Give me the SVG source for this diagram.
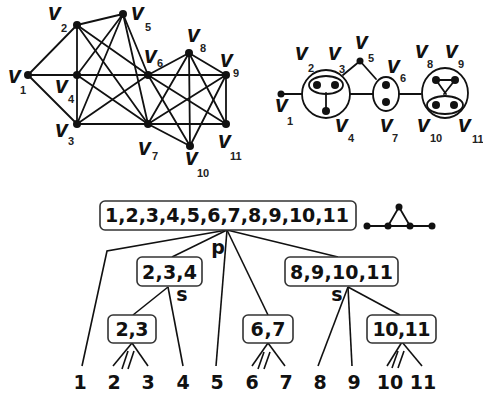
<svg xmlns="http://www.w3.org/2000/svg" width="483" height="393" viewBox="0 0 483 393">
<style>
.e{stroke:#111;stroke-width:1.8;fill:none;stroke-linecap:round}
.t{stroke:#111;stroke-width:1.6;fill:none}
.o{stroke:#111;stroke-width:1.8;fill:none}
.d{fill:#111}
.v{font-family:"Liberation Sans",Arial,sans-serif;font-weight:bold;font-style:italic;font-size:23px;fill:#111}
.s{font-family:"Liberation Sans",Arial,sans-serif;font-weight:bold;font-size:11px;fill:#222}
.b{fill:#fff;stroke:#333;stroke-width:1.6}
.L{font-family:"DejaVu Sans","Liberation Sans",sans-serif;font-weight:bold;font-size:19px;fill:#111}
</style>
<rect width="483" height="393" fill="#fff"/>
<!-- left graph -->
<g id="left-edges">
<line class="e" x1="28" y1="75" x2="77" y2="25"/>
<line class="e" x1="28" y1="75" x2="77" y2="75"/>
<line class="e" x1="28" y1="75" x2="77" y2="124"/>
<line class="e" x1="77" y1="25" x2="77" y2="75"/>
<line class="e" x1="77" y1="75" x2="77" y2="124"/>
<line class="e" x1="77" y1="25" x2="123" y2="14"/>
<line class="e" x1="77" y1="75" x2="123" y2="14"/>
<line class="e" x1="77" y1="124" x2="123" y2="14"/>
<line class="e" x1="77" y1="25" x2="148" y2="75"/>
<line class="e" x1="77" y1="25" x2="148" y2="124"/>
<line class="e" x1="77" y1="75" x2="148" y2="75"/>
<line class="e" x1="77" y1="75" x2="148" y2="124"/>
<line class="e" x1="77" y1="124" x2="148" y2="75"/>
<line class="e" x1="77" y1="124" x2="148" y2="124"/>
<line class="e" x1="123" y1="14" x2="148" y2="75"/>
<line class="e" x1="123" y1="14" x2="148" y2="124"/>
<line class="e" x1="148" y1="75" x2="189" y2="53"/>
<line class="e" x1="148" y1="75" x2="226" y2="75"/>
<line class="e" x1="148" y1="75" x2="190" y2="146"/>
<line class="e" x1="148" y1="75" x2="226" y2="124"/>
<line class="e" x1="148" y1="124" x2="189" y2="53"/>
<line class="e" x1="148" y1="124" x2="226" y2="75"/>
<line class="e" x1="148" y1="124" x2="190" y2="146"/>
<line class="e" x1="148" y1="124" x2="226" y2="124"/>
<line class="e" x1="189" y1="53" x2="226" y2="75"/>
<line class="e" x1="189" y1="53" x2="190" y2="146"/>
<line class="e" x1="189" y1="53" x2="226" y2="124"/>
<line class="e" x1="226" y1="75" x2="190" y2="146"/>
<line class="e" x1="226" y1="75" x2="226" y2="124"/>
</g>
<g id="left-v1"><circle class="d" cx="28" cy="75" r="4"/><text class="v" x="8" y="83">v</text><text class="s" x="20" y="94">1</text></g>
<g id="left-v2"><circle class="d" cx="77" cy="25" r="4"/><text class="v" x="48" y="20">v</text><text class="s" x="61" y="32">2</text></g>
<g id="left-v3"><circle class="d" cx="77" cy="124" r="4"/><text class="v" x="55" y="137">v</text><text class="s" x="68" y="145">3</text></g>
<g id="left-v4"><circle class="d" cx="77" cy="75" r="4"/><text class="v" x="55" y="93">v</text><text class="s" x="68" y="103">4</text></g>
<g id="left-v5"><circle class="d" cx="123" cy="14" r="4"/><text class="v" x="131" y="20">v</text><text class="s" x="145" y="31">5</text></g>
<g id="left-v6"><circle class="d" cx="148" cy="75" r="4"/><text class="v" x="144" y="63">v</text><text class="s" x="157" y="67">6</text></g>
<g id="left-v7"><circle class="d" cx="148" cy="124" r="4"/><text class="v" x="138" y="155">v</text><text class="s" x="152" y="160">7</text></g>
<g id="left-v8"><circle class="d" cx="189" cy="53" r="4"/><text class="v" x="187" y="42">v</text><text class="s" x="200" y="52">8</text></g>
<g id="left-v9"><circle class="d" cx="226" cy="75" r="4"/><text class="v" x="220" y="67">v</text><text class="s" x="233" y="77">9</text></g>
<g id="left-v10"><circle class="d" cx="190" cy="146" r="4"/><text class="v" x="185" y="165">v</text><text class="s" x="197" y="177">10</text></g>
<g id="left-v11"><circle class="d" cx="226" cy="124" r="4"/><text class="v" x="218" y="148">v</text><text class="s" x="230" y="160">11</text></g>
<!-- right graph -->
<g id="right-edges">
<line class="e" x1="281" y1="94" x2="302" y2="94"/>
<line class="e" x1="326" y1="93" x2="326" y2="111"/>
<line class="e" x1="343" y1="75" x2="360" y2="61"/>
<line class="e" x1="360" y1="61" x2="376" y2="79"/>
<line class="e" x1="350" y1="94" x2="373" y2="94"/>
<line class="e" x1="399" y1="94" x2="421" y2="94"/>
<line class="e" x1="436" y1="80" x2="455" y2="80"/>
<line class="e" x1="436" y1="80" x2="446" y2="94"/>
<line class="e" x1="455" y1="80" x2="444" y2="94"/>
</g>
<g id="right-module-234"><circle class="o" cx="326" cy="94" r="24"/><ellipse class="o" cx="326" cy="85" rx="17" ry="9"/><circle class="d" cx="317" cy="85" r="4"/><circle class="d" cx="335" cy="85" r="4"/><circle class="d" cx="326" cy="111" r="4"/></g>
<g id="right-module-67"><ellipse class="o" cx="386" cy="94" rx="13" ry="17"/><circle class="d" cx="386" cy="85" r="4"/><circle class="d" cx="386" cy="102" r="4"/></g>
<g id="right-module-891011"><ellipse class="o" cx="445" cy="93" rx="23" ry="25"/><ellipse class="o" cx="445" cy="105" rx="18" ry="9"/><circle class="d" cx="436" cy="80" r="4"/><circle class="d" cx="455" cy="80" r="4"/><circle class="d" cx="436" cy="105" r="4"/><circle class="d" cx="454" cy="105" r="4"/></g>
<g id="right-v1"><circle class="d" cx="281" cy="94" r="3.5"/><text class="v" x="275" y="112">v</text><text class="s" x="287" y="125">1</text></g>
<g id="right-v5"><circle class="d" cx="360" cy="61" r="3.5"/><text class="v" x="355" y="49">v</text><text class="s" x="368" y="62">5</text></g>
<g id="right-labels">
<text class="v" x="295" y="60">v</text><text class="s" x="308" y="72">2</text>
<text class="v" x="328" y="60">v</text><text class="s" x="339" y="73">3</text>
<text class="v" x="387" y="73">v</text><text class="s" x="400" y="82">6</text>
<text class="v" x="335" y="132">v</text><text class="s" x="348" y="142">4</text>
<text class="v" x="380" y="132">v</text><text class="s" x="392" y="142">7</text>
<text class="v" x="415" y="58">v</text><text class="s" x="427" y="68">8</text>
<text class="v" x="445" y="58">v</text><text class="s" x="458" y="68">9</text>
<text class="v" x="417" y="132">v</text><text class="s" x="430" y="142">10</text>
<text class="v" x="458" y="132">v</text><text class="s" x="472" y="143">11</text>
</g>
<!-- tree connectors -->
<g id="tree-connectors">
<polyline class="t" points="227,230 107,251 82,366"/>
<line class="t" x1="227" y1="230" x2="172" y2="257"/>
<line class="t" x1="227" y1="230" x2="216" y2="366"/>
<line class="t" x1="227" y1="230" x2="268" y2="315"/>
<line class="t" x1="227" y1="230" x2="338" y2="257"/>
<line class="t" x1="168" y1="287" x2="133" y2="315"/>
<line class="t" x1="168" y1="287" x2="183" y2="366"/>
<line class="t" x1="348" y1="287" x2="318" y2="366"/>
<line class="t" x1="348" y1="287" x2="352" y2="366"/>
<line class="t" x1="348" y1="287" x2="400" y2="315"/>
<line class="t" x1="132" y1="343" x2="113" y2="366"/>
<line class="t" x1="132" y1="343" x2="148" y2="366"/>
<line class="t" x1="128" y1="351" x2="122" y2="369"/>
<line class="t" x1="134" y1="351" x2="128" y2="369"/>
<line class="t" x1="268" y1="343" x2="252" y2="366"/>
<line class="t" x1="268" y1="343" x2="285" y2="366"/>
<line class="t" x1="264" y1="352" x2="258" y2="369"/>
<line class="t" x1="270" y1="352" x2="264" y2="369"/>
<line class="t" x1="402" y1="342" x2="387" y2="366"/>
<line class="t" x1="402" y1="342" x2="422" y2="366"/>
<line class="t" x1="398" y1="351" x2="392" y2="368"/>
<line class="t" x1="404" y1="351" x2="398" y2="368"/>
</g>
<g id="root"><rect class="b" x="100" y="201" width="256" height="29" rx="5"/><text class="L" x="227" y="222" text-anchor="middle" textLength="244" lengthAdjust="spacing">1,2,3,4,5,6,7,8,9,10,11</text><text class="L" x="218" y="254" text-anchor="middle">p</text></g>
<g id="quotient-icon">
<line class="e" x1="367" y1="226" x2="432" y2="226"/>
<polyline class="e" points="388,226 399,207 410,226"/>
<circle class="d" cx="367" cy="226" r="3.5"/><circle class="d" cx="388" cy="226" r="3.5"/><circle class="d" cx="410" cy="226" r="3.5"/><circle class="d" cx="432" cy="226" r="3.5"/><circle class="d" cx="399" cy="207" r="3.5"/>
</g>
<g id="n234"><rect class="b" x="137" y="257" width="65" height="29" rx="5"/><text class="L" x="169.5" y="279" text-anchor="middle" textLength="55" lengthAdjust="spacing">2,3,4</text><text class="L" x="182" y="301" text-anchor="middle">s</text></g>
<g id="n891011"><rect class="b" x="285" y="257" width="113" height="29" rx="5"/><text class="L" x="341.5" y="279" text-anchor="middle" textLength="103" lengthAdjust="spacing">8,9,10,11</text><text class="L" x="337" y="301" text-anchor="middle">s</text></g>
<g id="n23"><rect class="b" x="108" y="315" width="48" height="28" rx="5"/><text class="L" x="132" y="336" text-anchor="middle" textLength="33" lengthAdjust="spacing">2,3</text></g>
<g id="n67"><rect class="b" x="243" y="315" width="50" height="28" rx="5"/><text class="L" x="268" y="336" text-anchor="middle" textLength="35" lengthAdjust="spacing">6,7</text></g>
<g id="n1011"><rect class="b" x="367" y="315" width="69" height="28" rx="5"/><text class="L" x="401.5" y="336" text-anchor="middle" textLength="58" lengthAdjust="spacing">10,11</text></g>
<g id="leaves">
<text class="L" x="80" y="389" text-anchor="middle">1</text>
<text class="L" x="114" y="389" text-anchor="middle">2</text>
<text class="L" x="148" y="389" text-anchor="middle">3</text>
<text class="L" x="183" y="389" text-anchor="middle">4</text>
<text class="L" x="217" y="389" text-anchor="middle">5</text>
<text class="L" x="252" y="389" text-anchor="middle">6</text>
<text class="L" x="286" y="389" text-anchor="middle">7</text>
<text class="L" x="320" y="389" text-anchor="middle">8</text>
<text class="L" x="354" y="389" text-anchor="middle">9</text>
<text class="L" x="390" y="389" text-anchor="middle">10</text>
<text class="L" x="423" y="389" text-anchor="middle">11</text>
</g>
</svg>
